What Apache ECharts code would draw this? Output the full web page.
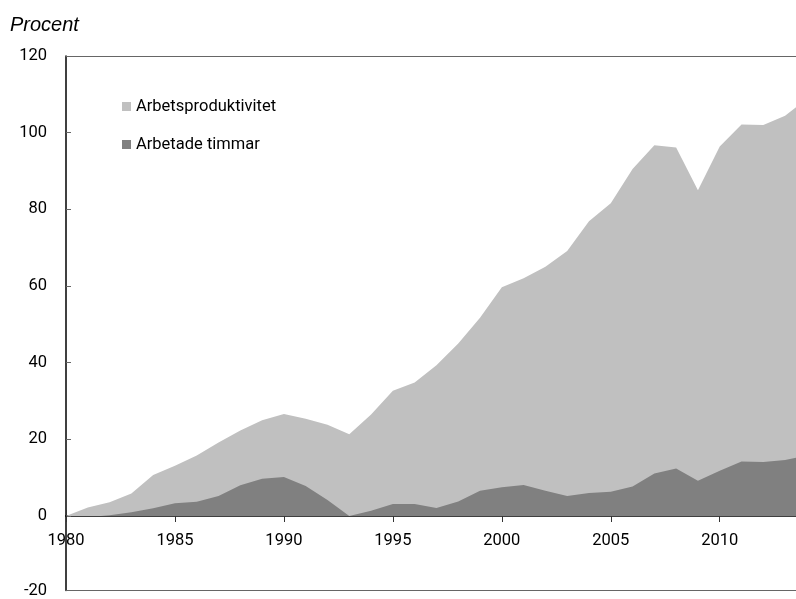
<!DOCTYPE html>
<html>
<head>
<meta charset="utf-8">
<script src="https://cdn.jsdelivr.net/npm/echarts@6/dist/echarts.min.js"></script>
<style>
	html,body{margin:0;padding:0;background:#fff;}
	#chart{width:796px;height:599px;}
</style>
</head>
<body>
<div id="chart"></div>
<script>
	// år 1980-2014 (bilden skärs av vid ca 2013,5)
	var years = [1980,1981,1982,1983,1984,1985,1986,1987,1988,1989,1990,1991,1992,1993,1994,1995,1996,1997,
		1998,1999,2000,2001,2002,2003,2004,2005,2006,2007,2008,2009,2010,2011,2012,2013,2014];
	// övre kant (ljus yta), procent
	var produktivitet = [0,2.2,3.6,5.9,10.7,13.1,15.8,19.2,22.3,25.0,26.6,25.4,23.8,21.3,26.5,32.7,34.8,39.3,
		45.0,51.7,59.7,62.0,65.0,69.1,76.9,81.6,90.5,96.7,96.1,85.0,96.4,102.1,102.0,104.4,108.9];
	// mörk yta, procent
	var timmar = [0,-0.3,0.2,1.0,2.0,3.3,3.7,5.2,8.0,9.7,10.2,7.8,4.2,0,1.4,3.1,3.1,2.1,
		3.8,6.6,7.5,8.1,6.6,5.2,6.0,6.3,7.7,11.1,12.4,9.2,11.8,14.2,14.1,14.6,15.8];
	var xTicks = [1980,1985,1990,1995,2000,2005,2010];
	var yTicks = [-20,0,20,40,60,80,100,120];

	var font = 'Roboto,"Liberation Sans Narrow",sans-serif';
	var xMin = 1980, xMax = 2013.5;

	function pairs(arr){
		return arr.map(function(v,i){ return [years[i], v]; });
	}

	// enkel x-axel, bara linje
	function lineAxis(grid, pos){
		return {
			gridIndex:grid, type:'value', min:xMin, max:xMax, interval:5, position:pos,
			axisLine:{show:true,onZero:false,lineStyle:{color:'#666',width:1}},
			axisTick:{show:false}, axisLabel:{show:false}, splitLine:{show:false}
		};
	}

	var chart = echarts.init(document.getElementById('chart'));
	chart.setOption({
		animation:false,
		title:{
			text:'Procent',
			left:5,
			top:10,
			textStyle:{fontFamily:'"Liberation Sans",Arial,sans-serif',fontStyle:'italic',fontWeight:'normal',fontSize:20,color:'#000'}
		},
		legend:{
			orient:'vertical',
			left:117,
			top:93,
			itemWidth:9,
			itemHeight:9,
			itemGap:21,
			icon:'rect',
			data:['Arbetsproduktivitet','Arbetade timmar'],
			textStyle:{fontFamily:font,fontSize:16.5,color:'#000'}
		},
		// två grids: 0..120 ovanför nollinjen, -20..0 under
		grid:[
			{left:66, top:56, right:0, height:460},
			{left:66, top:516, right:0, height:77}
		],
		xAxis:[
			{
				gridIndex:0,
				type:'value',
				min:xMin,
				max:xMax,
				interval:5,
				position:'bottom',
				axisLine:{onZero:false,lineStyle:{color:'#000',width:1.5}},
				axisTick:{inside:false,length:6,customValues:xTicks,lineStyle:{color:'#333'}},
				splitLine:{show:false},
				axisLabel:{
					margin:16,
					customValues:xTicks,
					formatter:function(v){ return String(v); },
					fontFamily:font,fontSize:16.5,color:'#000'
				}
			},
			{
				// övre halvan av streckmarkeringarna vid nollinjen
				gridIndex:1,
				type:'value',
				min:xMin,
				max:xMax,
				interval:5,
				position:'top',
				axisLine:{show:false,onZero:false},
				axisTick:{inside:false,length:6,customValues:xTicks,lineStyle:{color:'#333'}},
				splitLine:{show:false},
				axisLabel:{show:false}
			},
			lineAxis(0,'top'),
			lineAxis(1,'bottom')
		],
		yAxis:[
			{
				gridIndex:0,
				type:'value',
				min:0,
				max:yTicks[yTicks.length-1],
				interval:20,
				axisLine:{show:true,onZero:false,lineStyle:{color:'#000',width:1.5}},
				axisTick:{show:true,inside:true,length:5,lineStyle:{color:'#666'}},
				splitLine:{show:false},
				axisLabel:{margin:19,fontFamily:font,fontSize:16.5,color:'#000'}
			},
			{
				gridIndex:1,
				type:'value',
				min:yTicks[0],
				max:0,
				interval:20,
				axisLine:{show:true,onZero:false,lineStyle:{color:'#000',width:1.5}},
				axisTick:{show:true,inside:true,length:5,lineStyle:{color:'#666'}},
				splitLine:{show:false},
				axisLabel:{margin:19,fontFamily:font,fontSize:16.5,color:'#000',showMaxLabel:false}
			}
		],
		series:[
			{
				name:'Arbetsproduktivitet',
				type:'line',
				xAxisIndex:0,
				yAxisIndex:0,
				data:pairs(produktivitet),
				clip:true,
				showSymbol:false,
				symbol:'none',
				color:'#c0c0c0',
				lineStyle:{width:0},
				areaStyle:{color:'#c0c0c0',opacity:1},
				z:1
			},
			{
				name:'Arbetade timmar',
				type:'line',
				xAxisIndex:0,
				yAxisIndex:0,
				data:pairs(timmar),
				clip:true,
				showSymbol:false,
				symbol:'none',
				color:'#808080',
				lineStyle:{width:0},
				areaStyle:{color:'#808080',opacity:1},
				z:2
			}
		]
	});
</script>
</body>
</html>
